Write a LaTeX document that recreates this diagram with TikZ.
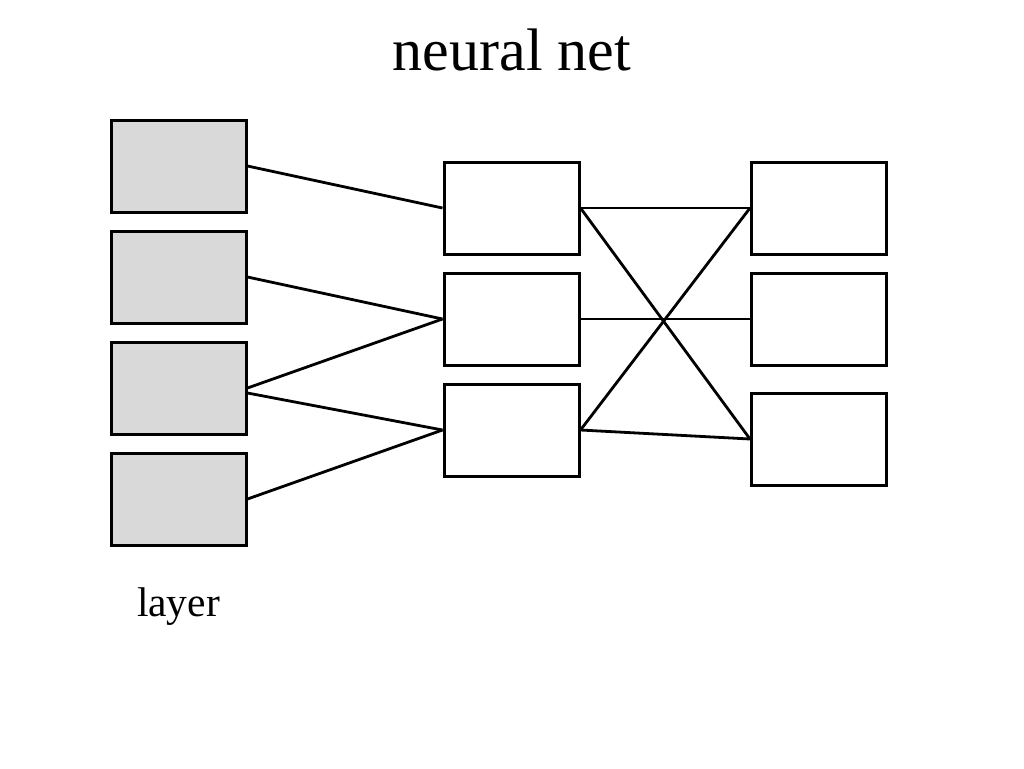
\documentclass[tikz,border=0pt]{standalone}
\usepackage{fontspec}
\setmainfont{Liberation Serif}
\definecolor{boxgray}{RGB}{217,217,217}
\begin{document}
\begin{tikzpicture}[x=0.5pt,y=-0.5pt,
  unit/.style={draw=black,line width=1.5pt,rectangle,minimum width=67.5pt,minimum height=46pt,inner sep=0pt},
  inunit/.style={unit,fill=boxgray},
  link/.style={draw=black,line width=1.4pt}]
\useasboundingbox (0,0) rectangle (1024,768);
\node[font=\fontsize{30}{36}\selectfont] (title) at (512,50) {neural net};
\node[font=\fontsize{20.75}{25}\selectfont] (lbl) at (178.5,607) {layer};
\node[inunit] (L1) at (178.5,166) {};
\node[inunit] (L2) at (178.5,277) {};
\node[inunit] (L3) at (178.5,388) {};
\node[inunit] (L4) at (178.5,499) {};
\node[unit] (M1) at (511.5,208) {};
\node[unit] (M2) at (511.5,319) {};
\node[unit] (M3) at (511.5,430) {};
\node[unit] (R1) at (819,208) {};
\node[unit] (R2) at (819,319) {};
\node[unit] (R3) at (819,439) {};
\coordinate (L3b) at ([yshift=-2.5pt]L3.east);
\draw[link] (L1.east) -- (M1.west);
\draw[link] (L2.east) -- (M2.west);
\draw[link] (L3.east) -- (M2.west);
\draw[link] (L3b) -- (M3.west);
\draw[link] (L4.east) -- (M3.west);
\draw[link] (M1.east) -- (R1.west);
\draw[link] (M1.east) -- (R3.west);
\draw[link] (M2.east) -- (R2.west);
\draw[link] (M3.east) -- (R1.west);
\draw[link] (M3.east) -- (R3.west);
\end{tikzpicture}
\end{document}
